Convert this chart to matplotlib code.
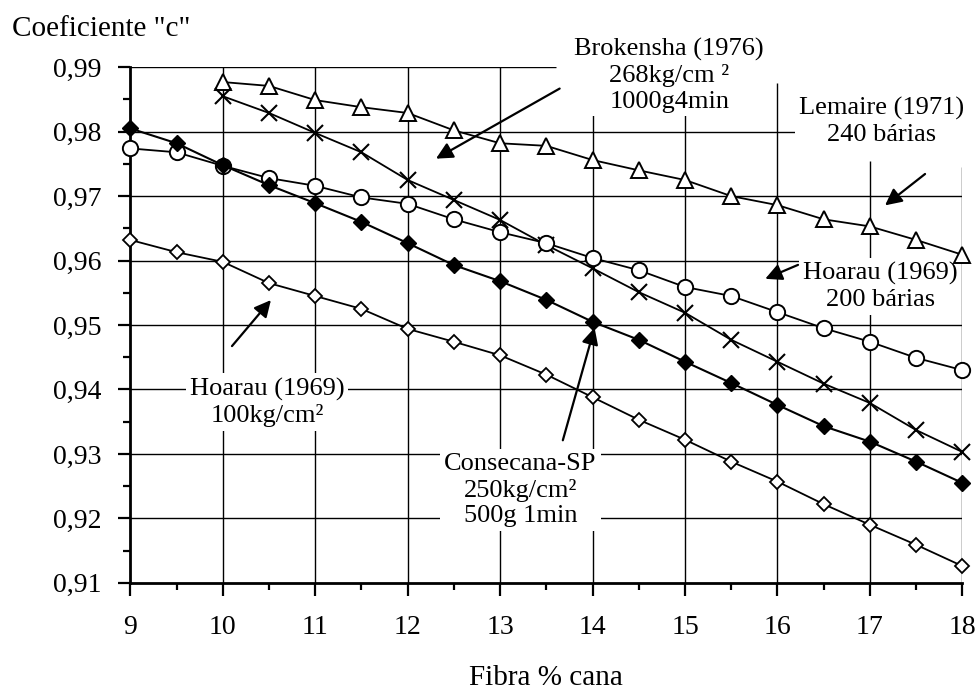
import matplotlib
matplotlib.use("Agg")
import matplotlib.pyplot as plt
from matplotlib.ticker import MultipleLocator, FuncFormatter
import numpy as np

plt.rcParams['font.family'] = ['Liberation Serif', 'DejaVu Serif']

# fibra % cana
x_full = [9, 9.5, 10, 10.5, 11, 11.5, 12, 12.5, 13, 13.5, 14, 14.5, 15, 15.5,
          16, 16.5, 17, 17.5, 18]
x_from10 = x_full[2:]

lemaire = [0.9877, 0.9871, 0.9849, 0.9838, 0.9829, 0.9802, 0.9782, 0.9778,
           0.9756, 0.9740, 0.9725, 0.9700, 0.9686, 0.9664, 0.9653, 0.9632, 0.9609]
brokensha = [0.9855, 0.9829, 0.9798, 0.9768, 0.9725, 0.9694, 0.9663, 0.9624,
             0.9588, 0.9551, 0.9519, 0.9477, 0.9443, 0.9409, 0.9379, 0.9337, 0.9303]
hoarau200 = [0.9774, 0.9768, 0.9747, 0.9728, 0.9716, 0.9698, 0.9688, 0.9664,
             0.9644, 0.9627, 0.9604, 0.9585, 0.9559, 0.9545, 0.9520, 0.9495,
             0.9474, 0.9449, 0.9430]
consecana = [0.9805, 0.9782, 0.9748, 0.9717, 0.9689, 0.9660, 0.9627, 0.9593,
             0.9568, 0.9539, 0.9505, 0.9477, 0.9443, 0.9410, 0.9376, 0.9343,
             0.9319, 0.9288, 0.9255]
hoarau100 = [0.9632, 0.9613, 0.9598, 0.9565, 0.9545, 0.9525, 0.9494, 0.9474,
             0.9453, 0.9423, 0.9388, 0.9353, 0.9322, 0.9288, 0.9257, 0.9222,
             0.9190, 0.9159, 0.9126]

x_ticks = list(range(9, 19))
y_ticks = [0.91, 0.92, 0.93, 0.94, 0.95, 0.96, 0.97, 0.98, 0.99]

fig = plt.figure(figsize=(9.8, 6.93), dpi=100)
ax = fig.add_axes([0.133, 0.159, 0.849, 0.744])

# grid drawn by hand: the upper right corner is left open in the original
for yv in y_ticks[1:]:
    x_end = 13.6 if yv == 0.99 else 18
    ax.hlines(yv, 9, x_end, color='k', lw=1.0, zorder=1)
v_top = {16: 0.9875, 17: 0.9755, 18: 0.9745}
for xv in x_ticks[1:]:
    ax.vlines(xv, 0.91, v_top.get(xv, 0.99), color='k', lw=1.0, zorder=1)

ax.plot(x_from10, lemaire, color='k', lw=1.3, marker='^', ms=12,
        mfc='white', mec='k', mew=1.4, zorder=3, clip_on=False)
ax.plot(x_from10, brokensha, color='k', lw=1.3, marker='x', ms=12,
        mew=1.5, zorder=3, clip_on=False)
ax.plot(x_full, hoarau200, color='k', lw=1.3, marker='o', ms=11,
        mfc='white', mec='k', mew=1.4, zorder=3, clip_on=False)
ax.plot(x_full, consecana, color='k', lw=1.5, marker='D', ms=8.5,
        mfc='k', mec='k', zorder=3, clip_on=False)
ax.plot(x_full, hoarau100, color='k', lw=1.3, marker='D', ms=7,
        mfc='white', mec='k', mew=1.3, zorder=3, clip_on=False)

ax.set_xlim(9, 18)
ax.set_ylim(0.91, 0.99)
ax.set_xticks(x_ticks)
ax.set_yticks(y_ticks)
ax.xaxis.set_minor_locator(MultipleLocator(0.5))
ax.yaxis.set_minor_locator(MultipleLocator(0.005))
ax.yaxis.set_major_formatter(FuncFormatter(lambda v, p: f"{v:.2f}".replace('.', ',')))
for s in ['top', 'right']:
    ax.spines[s].set_visible(False)
ax.spines['left'].set_linewidth(2)
ax.spines['bottom'].set_linewidth(2)
ax.tick_params(which='major', direction='out', length=9, width=1.6,
               labelsize=20, pad=14)
ax.tick_params(which='minor', direction='out', length=5, width=1.6)
ax.tick_params(axis='y', which='major', pad=12)

fig.text(0.012, 0.948, 'Coeficiente "c"', fontsize=21)
ax.set_xlabel('Fibra % cana', fontsize=21, labelpad=18)

box = dict(boxstyle='square,pad=0.15', fc='white', ec='none')
arrow = dict(arrowstyle='-|>,head_length=1.0,head_width=0.5', color='k', lw=1.6)
fs = 19

ax.text(14.83, 0.9888, 'Brokensha (1976)\n268kg/cm ²\n1000g4min', ha='center',
        va='center', fontsize=fs, linespacing=1.2, bbox=box, zorder=2,
        clip_on=False)
ax.annotate('', xy=(12.28, 0.9756), xytext=(13.67, 0.9869),
            arrowprops=arrow, zorder=4)

ax.text(17.13, 0.9816, 'Lemaire (1971)\n240 bárias', ha='center', va='center',
        fontsize=fs, linespacing=1.25, bbox=box, zorder=2)
ax.annotate('', xy=(17.14, 0.9683), xytext=(17.62, 0.9737),
            arrowprops=arrow, zorder=4)

ax.text(17.11, 0.9560, 'Hoarau (1969)\n200 bárias', ha='center', va='center',
        fontsize=fs, linespacing=1.2, bbox=box, zorder=2, clip_on=False)
ax.annotate('', xy=(15.84, 0.9570), xytext=(16.25, 0.9595),
            arrowprops=arrow, zorder=4)

ax.text(10.48, 0.9380, 'Hoarau (1969)\n100kg/cm²', ha='center', va='center',
        fontsize=fs, linespacing=1.2, bbox=box, zorder=2)
ax.annotate('', xy=(10.54, 0.9542), xytext=(10.08, 0.9464),
            arrowprops=arrow, zorder=4)

ax.text(13.22, 0.9244, 'Consecana-SP\n250kg/cm²\n500g 1min', ha='center',
        va='center', fontsize=fs, linespacing=1.2, bbox=box, zorder=2)
ax.annotate('', xy=(14.03, 0.9500), xytext=(13.67, 0.9317),
            arrowprops=arrow, zorder=4)

fig.savefig('out.png', dpi=100)
